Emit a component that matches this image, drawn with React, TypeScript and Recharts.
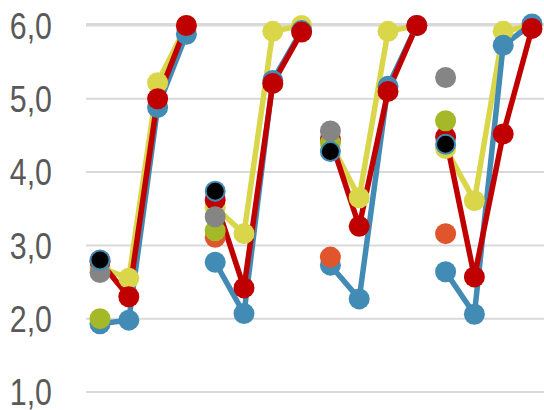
import React from "react";
import { LineChart, Line, XAxis, YAxis, CartesianGrid } from "recharts";

// Sixteen positions in four groups of four
const positions = ["A1", "A2", "A3", "A4", "B1", "B2", "B3", "B4", "C1", "C2", "C3", "C4", "D1", "D2", "D3", "D4"];
const groupSize = 4;
const yTicks = [1, 2, 3, 4, 5, 6];

// Connected series (lines break between groups)
const yellowValues = [2.7, 2.55, 5.22, 6.0, 3.52, 3.16, 5.92, 6.0, 4.4, 3.65, 5.92, 6.0, 4.32, 3.61, 5.92, 6.0];
const blueValues = [1.93, 1.98, 4.88, 5.88, 2.77, 2.07, 5.25, 5.93, 2.73, 2.27, 5.17, 6.0, 2.64, 2.06, 5.73, 6.02];
const redValues = [2.78, 2.3, 5.0, 6.0, 3.62, 2.42, 5.21, 5.91, 4.45, 3.26, 5.1, 6.0, 4.48, 2.57, 4.52, 5.96];

// Single reference points at the start of each group
const orangeValues = [null, null, null, null, 3.11, null, null, null, 2.84, null, null, null, 3.16, null, null, null];
const greenValues = [2.0, null, null, null, 3.2, null, null, null, 4.4, null, null, null, 4.7, null, null, null];
const grayValues = [2.63, null, null, null, 3.39, null, null, null, 4.56, null, null, null, 5.29, null, null, null];
const blackValues = [2.8, null, null, null, 3.74, null, null, null, 4.28, null, null, null, 4.38, null, null, null];

const COLORS = {
  yellow: "#D9D64A",
  blue: "#428BB4",
  red: "#C00000",
  orange: "#E0552B",
  green: "#A5B828",
  gray: "#858585",
  black: "#000000",
};

const lineSeries = [
  { key: "yellow", values: yellowValues, color: COLORS.yellow },
  { key: "blue", values: blueValues, color: COLORS.blue },
  { key: "red", values: redValues, color: COLORS.red },
];

const groupCount = positions.length / groupSize;
const groups = Array.from({ length: groupCount }, (_, g) => g);

const rows = positions.map((pos, i) => {
  const g = Math.floor(i / groupSize);
  const row: Record<string, any> = {
    pos,
    orange: orangeValues[i],
    green: greenValues[i],
    gray: grayValues[i],
    black: blackValues[i],
  };
  lineSeries.forEach((s) => {
    row[`${s.key}_${g}`] = s.values[i];
  });
  return row;
});

const fontFamily = '"Liberation Sans Narrow", "Arial Narrow", "Liberation Sans", Arial, sans-serif';

// Condensed tick labels with a decimal comma
const YTick = (props: any) => {
  const { y, payload } = props;
  return (
    <text
      x={0}
      y={0}
      transform={`translate(52 ${y}) scale(0.82 1)`}
      textAnchor="end"
      dominantBaseline="central"
      fill="#595959"
      fontSize={37}
      fontFamily={fontFamily}
    >
      {payload.value.toFixed(1).replace(".", ",")}
    </text>
  );
};

const R = 10.5;

export default function App() {
  return (
    <div style={{ position: "absolute", left: 0, top: 0, background: "#fff" }}>
      <LineChart
        width={544}
        height={410}
        data={rows}
        margin={{ top: 24, right: 0, bottom: 18, left: 0 }}
      >
        <CartesianGrid vertical={false} stroke="#D9D9D9" strokeWidth={2} />
        <XAxis dataKey="pos" hide padding={{ left: 14, right: 12 }} />
        <YAxis
          domain={[1, 6]}
          ticks={yTicks}
          width={86}
          axisLine={false}
          tickLine={false}
          tick={<YTick />}
        />
        {lineSeries.map((s) =>
          groups.map((g) => (
            <Line
              key={`${s.key}_${g}`}
              dataKey={`${s.key}_${g}`}
              type="linear"
              stroke={s.color}
              strokeWidth={5.5}
              dot={{ r: R, fill: s.color, stroke: "none", strokeWidth: 0 }}
              activeDot={false}
              isAnimationActive={false}
            />
          ))
        )}
        <Line dataKey="orange" stroke="none" dot={{ r: R, fill: COLORS.orange, stroke: "none" }} activeDot={false} isAnimationActive={false} />
        <Line dataKey="green" stroke="none" dot={{ r: R, fill: COLORS.green, stroke: "none" }} activeDot={false} isAnimationActive={false} />
        <Line dataKey="gray" stroke="none" dot={{ r: R, fill: COLORS.gray, stroke: "none" }} activeDot={false} isAnimationActive={false} />
        <Line
          dataKey="black"
          stroke="none"
          dot={{ r: R - 1, fill: COLORS.black, stroke: COLORS.blue, strokeWidth: 2 }}
          activeDot={false}
          isAnimationActive={false}
        />
      </LineChart>
    </div>
  );
}
